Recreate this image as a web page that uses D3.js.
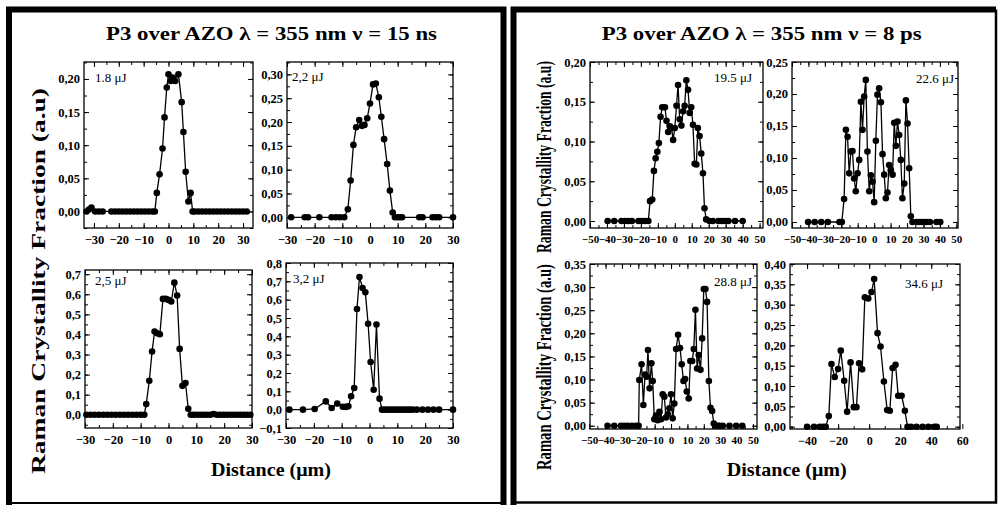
<!DOCTYPE html>
<html>
<head>
<meta charset="utf-8">
<script src="https://cdn.jsdelivr.net/npm/d3@7"></script>
<style>
  body { margin: 0; background: #fff; }
  svg { display: block; }
  text { font-family: "Liberation Serif", "Times New Roman", serif; fill: #000; }
</style>
</head>
<body>
<svg id="fig" width="1001" height="505"></svg>
<script>
// ---------- Raman crystallinity profiles across the P3 scribe ----------

// 15 ns pulses
const dist_1_8 = [-33, -32, -31, -29.5, -28, -26.5, -23, -21.5, -20, -18.5, -17, -15.5, -14, -12.5, -11, -9.5, -8, -6.5, -5.5,
  -4.7, -3.6, -2.4, -1.6, -0.7, 0, 0.9, 1.7, 2.7, 4, 5.3, 6, 6.9, 8, 8.9, 9.7,
  10.5, 12, 13.5, 15, 16.5, 18, 19.5, 21, 22.5, 24, 25.5, 27, 28.5, 30, 31.5];
const frac_1_8 = [0, 0.003, 0.006, 0, 0, 0, 0, 0, 0, 0, 0, 0, 0, 0, 0, 0, 0, 0, 0,
  0.028, 0.056, 0.095, 0.142, 0.187, 0.207, 0.197, 0.202, 0.197, 0.207, 0.165, 0.12, 0.06, 0.015, 0.028, 0,
  0, 0, 0, 0, 0, 0, 0, 0, 0, 0, 0, 0, 0, 0, 0];

const dist_2_2 = [-28.5, -23.6, -22.4, -18.3, -13.9, -12.3, -10.9, -9.3,
  -8.0, -7.0, -6.0, -5.0, -3.9, -2.9, -2.0, -1.0, 0, 1.1, 2.1, 3.2, 4.1, 5.1, 6.2, 7.2, 8.2,
  9.0, 9.9, 10.7, 11.6, 17.8, 19.0, 22.6, 23.8, 25.0, 30];
const frac_2_2 = [0, 0, 0, 0, 0, 0, 0, 0,
  0.017, 0.077, 0.152, 0.189, 0.204, 0.192, 0.194, 0.208, 0.239, 0.279, 0.281, 0.252, 0.211, 0.164, 0.112, 0.056, 0.01,
  0, 0, 0, 0, 0, 0, 0, 0, 0, 0];

const dist_2_5 = [-29.5, -28, -26.5, -25, -23.5, -22, -20.5, -19, -17.5, -16, -14.5, -13, -11.5, -10, -8.7,
  -8.0, -6.9, -5.9, -5.0, -4.1, -3.1, -2.0, -1.0, 0, 1.0, 2.1, 3.1, 4.0, 5.0, 6.1, 7.1,
  8, 9, 10.2, 11.4, 12.6, 13.8, 15, 16.2, 17.4, 18.6, 19.8, 21, 22.2, 23.4, 24.6, 25.8, 27, 28.2, 29.4];
const frac_2_5 = [0, 0, 0, 0, 0, 0, 0, 0, 0, 0, 0, 0, 0, 0, 0,
  0.053, 0.169, 0.315, 0.415, 0.406, 0.401, 0.577, 0.577, 0.572, 0.564, 0.658, 0.594, 0.328, 0.144, 0.158, 0.03,
  0, 0, 0, 0, 0, 0, 0, 0.004, 0, 0, 0, 0, 0, 0, 0, 0, 0, 0, 0];

const dist_3_2 = [-28.8, -23.9, -19.7, -15.7, -13.6, -11.6, -9.6, -8.5, -7.6, -6.6, -5.5, -4.5, -3.6, -2.5, -1.5,
  -0.5, 0.4, 1.5, 2.5, 3.6, 4.5, 5.5, 6.5, 7.5, 8.5, 9.5, 10.5, 11.5, 12.5, 13.5, 14.5, 15.5, 17, 19, 21, 23, 25, 30];
const frac_3_2 = [0, 0, 0.004, 0.045, 0.009, 0.033, 0.016, 0.015, 0.018, 0.073, 0.118, 0.549, 0.724, 0.664, 0.64,
  0.469, 0.26, 0.109, 0.464, 0.06, 0, 0, 0, 0, 0, 0, 0, 0, 0, 0, 0, 0, 0, 0, 0, 0, 0, 0];

// 8 ps pulses
const dist_19_5 = [-39.6, -35.7, -31.4, -29.4, -27.3, -25.3, -21.4, -19.5, -17.5, -15.6,
  -14.6, -13.3, -12.3, -11.3, -10.3, -9.4, -8.4, -7.4, -5.8, -4.9, -3.9, -2.9, -1.9, -1.0, 0,
  1.0, 1.9, 2.9, 3.9, 4.9, 5.8, 6.8, 7.8, 8.8, 9.7, 10.7, 11.7, 12.7, 13.6, 14.6, 15.6, 16.6, 17.5, 18.5,
  20.5, 22.4, 25.7, 27.7, 29.6, 31.6, 35.5, 40];
const frac_19_5 = [0, 0, 0, 0, 0, 0, 0, 0, 0, 0,
  0.025, 0.027, 0.063, 0.079, 0.087, 0.098, 0.131, 0.143, 0.143, 0.126, 0.112, 0.119, 0.117, 0.102, 0.117,
  0.145, 0.171, 0.128, 0.12, 0.138, 0.145, 0.177, 0.165, 0.136, 0.143, 0.121, 0.072, 0.071, 0.117, 0.107, 0.085, 0.06, 0.016, 0.002,
  0, 0, 0, 0, 0, 0, 0, 0];

const dist_22_6 = [-40.2, -36.2, -32.2, -28.2, -21.1, -19.7,
  -18.3, -17.2, -16.2, -15.2, -14.2, -13.2, -12.2, -11.2, -10.1, -9.1, -8.1, -7.1, -6.1, -5.1, -4.1, -3.0, -2.0, -1.0, 0,
  1.0, 2.0, 3.0, 4.1, 5.1, 6.1, 7.1, 8.1, 9.1, 10.1, 11.2, 12.2, 13.2, 14.2, 15.2, 16.2, 17.2, 18.3, 19.3, 20.3, 21.3, 22.3,
  23.3, 25.8, 27.4, 28.8, 30.4, 31.8, 33.9, 37.9, 40.2];
const frac_22_6 = [0, 0, 0, 0, 0, 0,
  0.036, 0.144, 0.133, 0.076, 0.11, 0.111, 0.068, 0.048, 0.076, 0.097, 0.188, 0.144, 0.196, 0.222, 0.11, 0.048, 0.073, 0.063, 0.031,
  0.127, 0.199, 0.209, 0.187, 0.106, 0.074, 0.037, 0.046, 0.089, 0.081, 0.074, 0.155, 0.119, 0.157, 0.136, 0.097, 0.037, 0.06, 0.19, 0.154, 0.084, 0.009,
  0, 0, 0, 0, 0, 0, 0, 0, 0];

const dist_28_8 = [-38.8, -34.7, -30.6, -28.6, -26.5, -23.9, -21.4, -19.8,
  -19.4, -18.0, -16.9, -15.9, -14.9, -14.1, -13.1, -12.0, -11.2, -10.2, -9.2, -8.2, -7.1, -6.1, -5.1, -4.1, -3.1, -2.0, -1.0, 0,
  1.0, 2.0, 3.1, 4.3, 5.5, 6.5, 7.6, 8.6, 9.6, 10.8, 11.8, 12.9, 13.9, 14.9, 15.9, 16.9, 18.0, 19.0, 20.0, 21.0, 22.0, 23.1,
  24.1, 25.1, 26.1, 27.1, 28.6, 29.6, 31.6, 35.7, 39.8, 43.5];
const frac_28_8 = [0, 0, 0, 0, 0, 0, 0, 0,
  0.099, 0.133, 0.045, 0.111, 0.106, 0.164, 0.081, 0.135, 0.097, 0.014, 0.022, 0.012, 0.03, 0.014, 0.068, 0.063, 0.018, 0.025, 0.038, 0.068,
  0.016, 0.048, 0.166, 0.197, 0.168, 0.133, 0.097, 0.101, 0.074, 0.059, 0.14, 0.14, 0.166, 0.251, 0.124, 0.153, 0.121, 0.189, 0.296, 0.296, 0.268, 0.097,
  0.039, 0.032, 0.005, 0, 0, 0, 0, 0, 0, 0];

const dist_34_6 = [-40, -35.5, -31.8, -29.7, -28,
  -26.0, -24.3, -22.2, -20.0, -18.3, -16.1, -14.2, -12.0, -9.9, -8.2, -6.5, -4.5, -2.8, -0.6, 1.5, 3.2,
  5.4, 7.3, 9.5, 11.6, 13.3, 15.1, 17.0, 18.7, 20.9, 23.0, 24.7,
  26.9, 30.5, 34.4, 38.1, 42, 43.5];
const frac_34_6 = [0, 0, 0, 0, 0,
  0.026, 0.154, 0.122, 0.142, 0.187, 0.113, 0.037, 0.158, 0.048, 0.048, 0.156, 0.141, 0.318, 0.315, 0.331, 0.363,
  0.23, 0.197, 0.111, 0.041, 0.039, 0.144, 0.152, 0.076, 0.076, 0.039, 0,
  0, 0, 0, 0, 0, 0];

// tick values
const xTicks30 = [-30, -20, -10, 0, 10, 20, 30];
const xTicks50 = [-50, -40, -30, -20, -10, 0, 10, 20, 30, 40, 50];
const xTicks60 = [-40, -20, 0, 20, 40, 60];
const yTicks020 = [0, 0.05, 0.10, 0.15, 0.20];
const yTicks025 = [0, 0.05, 0.10, 0.15, 0.20, 0.25];
const yTicks030 = [0, 0.05, 0.10, 0.15, 0.20, 0.25, 0.30];
const yTicks035 = [0, 0.05, 0.10, 0.15, 0.20, 0.25, 0.30, 0.35];
const yTicks040 = [0, 0.05, 0.10, 0.15, 0.20, 0.25, 0.30, 0.35, 0.40];
const yTicks07 = [0, 0.1, 0.2, 0.3, 0.4, 0.5, 0.6, 0.7];
const yTicks08 = [-0.1, 0, 0.1, 0.2, 0.3, 0.4, 0.5, 0.6, 0.7, 0.8];

// pulse energies
const energies = ["1.8 \u03bcJ", "2,2 \u03bcJ", "2,5 \u03bcJ", "3,2 \u03bcJ", "19.5 \u03bcJ", "22.6 \u03bcJ", "28.8 \u03bcJ", "34.6 \u03bcJ"];

const titles = ["P3 over AZO \u03bb = 355 nm \u03bd = 15 ns", "P3 over AZO \u03bb = 355 nm \u03bd = 8 ps"];
const yTitle = "Raman Crystallity Fraction (a.u)";
const xTitle = "Distance (\u03bcm)";

// ---------- drawing ----------
const svg = d3.select("#fig");

// panel frames
const frames = svg.append("g").attr("fill", "none").attr("stroke", "#000");
frames.append("path").attr("stroke-width", 6).attr("d", "M9,505 V9.5 H503.5 V505");
frames.append("path").attr("stroke-width", 2).attr("d", "M9,503 H503.5");
frames.append("path").attr("stroke-width", 6).attr("d", "M513.5,505 V9.5 H996");
frames.append("path").attr("stroke-width", 2.5).attr("d", "M996,9.5 V502.5 H513.5");

const commaFmt = spec => v => d3.format(spec)(v).replace(".", ",");

const panels = [
  { xs: dist_1_8, ys: frac_1_8, px: [84, 253], py: [62, 228], xd: [-34, 34], yd: [-0.025, 0.2256], xt: xTicks30, xm: 5, yt: yTicks020, fmt: ".2f", fs: 12.5, lab: energies[0], lx: 95, ly: 82, anchor: "start" },
  { xs: dist_2_2, ys: frac_2_2, px: [287, 453], py: [62, 228], xd: [-30, 30], yd: [-0.0225, 0.326], xt: xTicks30, xm: 5, yt: yTicks030, fmt: ".2f", fs: 12.5, lab: energies[1], lx: 292, ly: 81, anchor: "start" },
  { xs: dist_2_5, ys: frac_2_5, px: [85, 252], py: [270, 428], xd: [-30, 30], yd: [-0.066, 0.721], xt: xTicks30, xm: 5, yt: yTicks07, fmt: ".1f", fs: 12.5, lab: energies[2], lx: 95, ly: 285, anchor: "start" },
  { xs: dist_3_2, ys: frac_3_2, px: [286, 453], py: [263, 428], xd: [-30, 30], yd: [-0.1, 0.8], xt: xTicks30, xm: 5, yt: yTicks08, fmt: ".1f", fs: 12.5, lab: energies[3], lx: 293, ly: 283, anchor: "start" },
  { xs: dist_19_5, ys: frac_19_5, px: [590, 763], py: [62, 228], xd: [-50, 52], yd: [-0.0088, 0.2], xt: xTicks50, xm: 5, yt: yTicks020, fmt: ".2f", fs: 11, lab: energies[4], lx: 752, ly: 82, anchor: "end" },
  { xs: dist_22_6, ys: frac_22_6, px: [792, 958], py: [62, 228], xd: [-50, 51], yd: [-0.0094, 0.25], xt: xTicks50, xm: 5, yt: yTicks025, fmt: ".2f", fs: 11, lab: energies[5], lx: 954, ly: 83, anchor: "end" },
  { xs: dist_28_8, ys: frac_28_8, px: [590, 757], py: [264, 429], xd: [-49.5, 52.5], yd: [-0.007, 0.35], xt: xTicks50, xm: 5, yt: yTicks035, fmt: ".2f", fs: 11, lab: energies[6], lx: 752, ly: 286, anchor: "end" },
  { xs: dist_34_6, ys: frac_34_6, px: [790, 960], py: [264, 429], xd: [-51, 58.5], yd: [-0.0057, 0.4], xt: xTicks60, xm: 10, yt: yTicks040, fmt: ".2f", fs: 12, lab: energies[7], lx: 943, ly: 288, anchor: "end" }
];

function minorsBetween(ticks, step, domain) {
  const out = [];
  const lo = Math.min(domain[0], ticks[0]), hi = Math.max(domain[1], ticks[ticks.length - 1]);
  for (let v = ticks[0] - step; v >= lo - 1e-9; v -= step) out.push(v);
  for (let v = ticks[0]; v <= hi + 1e-9; v += step) out.push(+v.toFixed(6));
  return out.filter(v => v >= domain[0] - 1e-9 && v <= domain[1] + 1e-9);
}

panels.forEach(p => {
  const x = d3.scaleLinear().domain(p.xd).range(p.px);
  const y = d3.scaleLinear().domain(p.yd).range([p.py[1], p.py[0]]);
  const g = svg.append("g");
  const fmt = commaFmt(p.fmt);
  const ystep = p.yt[1] - p.yt[0];
  const xMinor = minorsBetween(p.xt, p.xm, p.xd);
  const yMinor = minorsBetween(p.yt, ystep / 2, p.yd);

  const tickStyle = (sel, fs) => {
    sel.attr("font-family", null);
    sel.select(".domain").remove();
    sel.selectAll("line").attr("stroke", "#000").attr("stroke-width", 1);
    sel.selectAll("text").attr("font-size", fs || 12.5).attr("font-weight", "bold").attr("fill", "#000");
  };

  // minor ticks on all four sides
  g.append("g").attr("transform", `translate(0,${p.py[1]})`)
    .call(d3.axisBottom(x).tickValues(xMinor).tickSizeInner(-3).tickSizeOuter(0).tickFormat("")).call(tickStyle);
  g.append("g").attr("transform", `translate(0,${p.py[0]})`)
    .call(d3.axisTop(x).tickValues(xMinor).tickSizeInner(-3).tickSizeOuter(0).tickFormat("")).call(tickStyle);
  g.append("g").attr("transform", `translate(${p.px[0]},0)`)
    .call(d3.axisLeft(y).tickValues(yMinor).tickSizeInner(-3).tickSizeOuter(0).tickFormat("")).call(tickStyle);
  g.append("g").attr("transform", `translate(${p.px[1]},0)`)
    .call(d3.axisRight(y).tickValues(yMinor).tickSizeInner(-3).tickSizeOuter(0).tickFormat("")).call(tickStyle);

  // major ticks, labelled on the bottom and left edges
  g.append("g").attr("transform", `translate(0,${p.py[1]})`)
    .call(d3.axisBottom(x).tickValues(p.xt).tickSizeInner(-5).tickSizeOuter(0).tickPadding(7).tickFormat(d3.format("d")))
    .call(tickStyle, p.fs);
  g.append("g").attr("transform", `translate(${p.px[0]},0)`)
    .call(d3.axisLeft(y).tickValues(p.yt).tickSizeInner(-5).tickSizeOuter(0).tickPadding(4).tickFormat(fmt))
    .call(tickStyle, 12.5);
  g.append("g").attr("transform", `translate(0,${p.py[0]})`)
    .call(d3.axisTop(x).tickValues(p.xt.filter(v => v >= p.xd[0] && v <= p.xd[1])).tickSizeInner(-5).tickSizeOuter(0).tickFormat(""))
    .call(tickStyle);
  g.append("g").attr("transform", `translate(${p.px[1]},0)`)
    .call(d3.axisRight(y).tickValues(p.yt).tickSizeInner(-5).tickSizeOuter(0).tickFormat(""))
    .call(tickStyle);

  // plot frame
  g.append("rect")
    .attr("x", p.px[0]).attr("y", p.py[0])
    .attr("width", p.px[1] - p.px[0]).attr("height", p.py[1] - p.py[0])
    .attr("fill", "none").attr("stroke", "#000").attr("stroke-width", 1.3);

  const pts = p.xs.map((v, i) => [v, p.ys[i]]);
  g.append("path")
    .attr("d", d3.line().x(d => x(d[0])).y(d => y(d[1]))(pts))
    .attr("fill", "none").attr("stroke", "#000").attr("stroke-width", 1.3);
  g.append("g").selectAll("circle").data(pts).join("circle")
    .attr("cx", d => x(d[0])).attr("cy", d => y(d[1])).attr("r", 3.3).attr("fill", "#000");

  g.append("text").attr("x", p.lx).attr("y", p.ly).attr("text-anchor", p.anchor)
    .attr("font-size", 13).text(p.lab);
});

// panel titles
const titleSpec = [{ cx: 271.5, w: 331 }, { cx: 761.7, w: 320 }];
titles.forEach((t, i) => {
  svg.append("text").attr("x", titleSpec[i].cx - titleSpec[i].w / 2).attr("y", 40)
    .attr("font-size", 19).attr("font-weight", "bold")
    .attr("textLength", titleSpec[i].w).attr("lengthAdjust", "spacingAndGlyphs").text(t);
});

// axis titles
const yTitleSpec = [{ x: 45, cy: 281, len: 386, fs: 19.5 }, { x: 551, cy: 157, len: 192, fs: 20 }, { x: 551, cy: 367, len: 206, fs: 20 }];
yTitleSpec.forEach(s => {
  svg.append("text")
    .attr("transform", `translate(${s.x},${s.cy + s.len / 2}) rotate(-90)`)
    .attr("font-size", s.fs).attr("font-weight", "bold")
    .attr("textLength", s.len).attr("lengthAdjust", "spacingAndGlyphs").text(yTitle);
});

const xTitleSpec = [{ cx: 271, w: 120 }, { cx: 786.7, w: 120 }];
xTitleSpec.forEach(s => {
  svg.append("text").attr("x", s.cx - s.w / 2).attr("y", 476)
    .attr("font-size", 19).attr("font-weight", "bold")
    .attr("textLength", s.w).attr("lengthAdjust", "spacingAndGlyphs").text(xTitle);
});
</script>
</body>
</html>
